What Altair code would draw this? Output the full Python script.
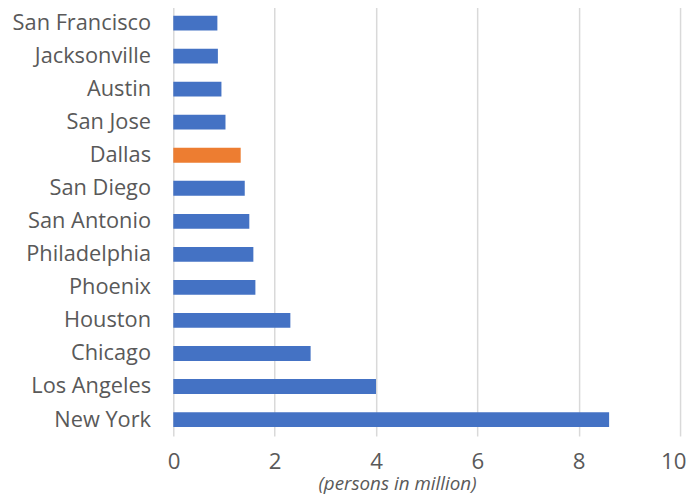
import altair as alt
import pandas as pd

cities = ["San Francisco", "Jacksonville", "Austin", "San Jose", "Dallas",
          "San Diego", "San Antonio", "Philadelphia", "Phoenix", "Houston",
          "Chicago", "Los Angeles", "New York"]
population = [0.87, 0.88, 0.95, 1.03, 1.33, 1.41, 1.50, 1.58, 1.62, 2.31,
              2.71, 4.00, 8.60]
highlight = ["Dallas"]

df = pd.DataFrame({"city": cities, "pop": population})
df["hl"] = ["yes" if c in highlight else "no" for c in cities]

FONT = "Open Sans"

chart = alt.Chart(df).mark_bar(size=15).encode(
    y=alt.Y("city:N", sort=cities, title=None,
            axis=alt.Axis(ticks=False, domain=False, grid=False,
                          labelFontSize=22, labelColor="#595959",
                          labelFont=FONT, labelPadding=23)),
    x=alt.X("pop:Q", scale=alt.Scale(domain=[0, 10], nice=False),
            title="(persons in million)",
            axis=alt.Axis(values=[0, 2, 4, 6, 8, 10], ticks=False, domain=False,
                          grid=True, gridColor="#D9D9D9", gridWidth=1.5,
                          labelFontSize=22.5, labelColor="#595959", labelFont=FONT,
                          labelPadding=15, labelFlush=True, labelFlushOffset=6,
                          titleFont=FONT, titleFontSize=19, titleFontStyle="italic",
                          titleFontWeight="normal", titleColor="#595959",
                          titleX=226, titleY=54, titleBaseline="alphabetic",
                          titleAlign="center")),
    color=alt.Color("hl:N", scale=alt.Scale(domain=["no", "yes"],
                                            range=["#4472C4", "#ED7D31"]),
                    legend=None),
).properties(
    width=512, height=434,
    autosize=alt.AutoSizeParams(type="none"),
    padding={"left": 167, "top": -4, "right": 6, "bottom": 58},
).configure_view(stroke=None)

chart.save("out.html", embed_options={"renderer": "svg", "actions": False})
